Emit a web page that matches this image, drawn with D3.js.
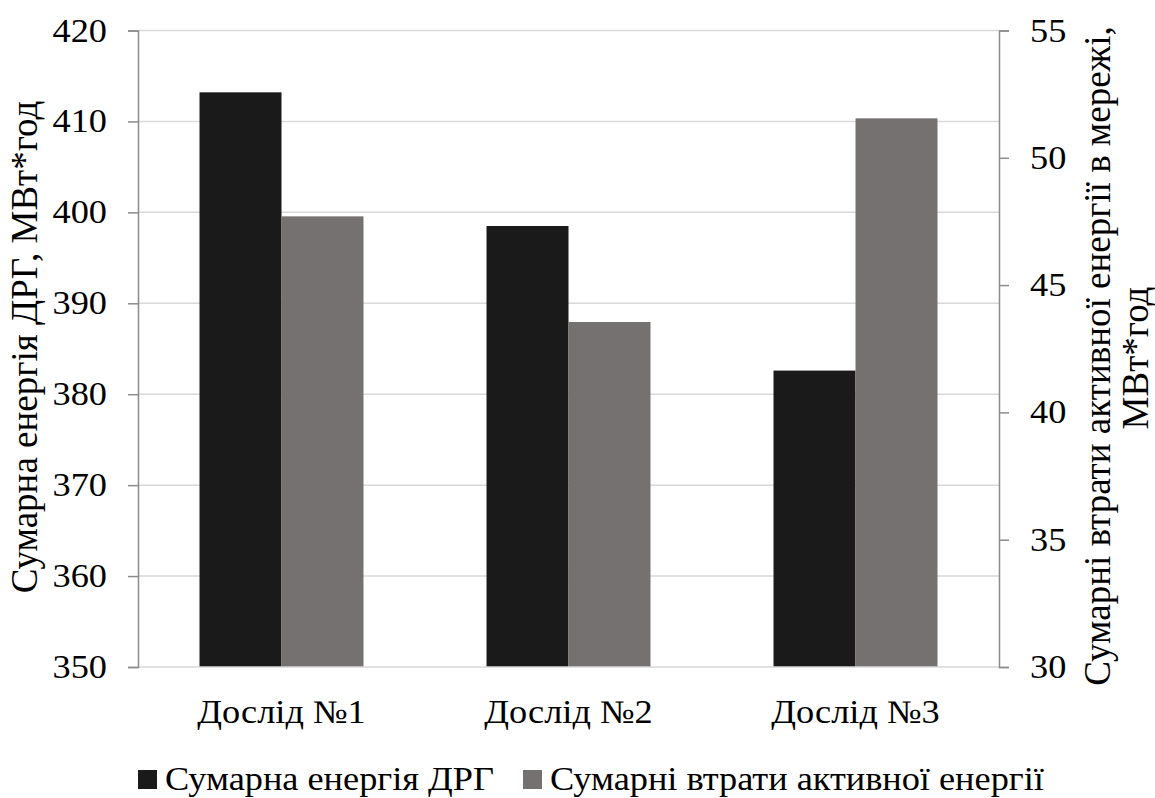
<!DOCTYPE html>
<html><head><meta charset="utf-8">
<script src="https://cdn.jsdelivr.net/npm/d3@7"></script>
<style>body{margin:0;background:#fff}svg{display:block}</style>
</head><body>
<script>
const categories = ["Дослід №1", "Дослід №2", "Дослід №3"];
const energyDRG = [413.2, 398.5, 382.6];
const lossesActive = [47.7, 43.55, 51.55];
const leftTicks = [350, 360, 370, 380, 390, 400, 410, 420];
const rightTicks = [30, 35, 40, 45, 50, 55];
const seriesNames = ["Сумарна енергія ДРГ", "Сумарні втрати активної енергії"];
const colors = ["#1a1a1a", "#767171"];

const FONT = "'Liberation Serif'";
const FS = 33, SX = 1.1, TFS = 37;
const W = 1155, H = 798;
const m = {left: 138, right: 1155 - 999, top: 30.5, bottom: 798 - 667};
const svg = d3.select("body").append("svg").attr("width", W).attr("height", H)
  .style("font-family", FONT);

const x = d3.scaleBand().domain(categories).range([m.left, W - m.right]).paddingInner(0.4286).paddingOuter(0.2143);
const yL = d3.scaleLinear().domain([350, 420]).range([H - m.bottom, m.top]);
const yR = d3.scaleLinear().domain([30, 55]).range([H - m.bottom, m.top]);

svg.append("g").selectAll("line").data(leftTicks.slice(1)).join("line")
  .attr("x1", m.left).attr("x2", W - m.right)
  .attr("y1", d => yL(d)).attr("y2", d => yL(d))
  .attr("stroke", "#d9d9d9").attr("stroke-width", 1.5);

const bw = x.bandwidth() / 2;
svg.append("g").selectAll("rect").data(categories).join("rect")
  .attr("x", d => x(d)).attr("width", bw)
  .attr("y", (d, i) => yL(energyDRG[i])).attr("height", (d, i) => yL(350) - yL(energyDRG[i]))
  .attr("fill", colors[0]);
svg.append("g").selectAll("rect").data(categories).join("rect")
  .attr("x", d => x(d) + bw).attr("width", bw)
  .attr("y", (d, i) => yR(lossesActive[i])).attr("height", (d, i) => yR(30) - yR(lossesActive[i]))
  .attr("fill", colors[1]);

svg.append("line").attr("x1", m.left).attr("x2", W - m.right).attr("y1", yL(350)).attr("y2", yL(350))
  .attr("stroke", "#d9d9d9").attr("stroke-width", 1.5);

function styleAxis(g, off) {
  g.attr("font-family", null).attr("font-size", null);
  g.select(".domain").attr("stroke", "#8c8c8c").attr("stroke-width", 1.5);
  g.selectAll(".tick line").attr("stroke", "#8c8c8c").attr("stroke-width", 1.5);
  g.selectAll(".tick text")
    .style("font-family", FONT).style("font-size", FS + "px").attr("fill", "#000")
    .attr("x", 0).attr("transform", `translate(${off},0) scale(${SX},1)`);
}
const gL = svg.append("g").attr("transform", `translate(${m.left},0)`)
  .call(d3.axisLeft(yL).tickValues(leftTicks).tickSize(10).tickPadding(21));
styleAxis(gL, -31);
const gR = svg.append("g").attr("transform", `translate(${W - m.right},0)`)
  .call(d3.axisRight(yR).tickValues(rightTicks).tickSize(10).tickPadding(21));
styleAxis(gR, 31);

function txt(tx, ty, s, anchor, fs, sx, rot) {
  return svg.append("text")
    .attr("transform", `translate(${tx},${ty}) scale(${sx},1)` + (rot ? " rotate(-90)" : ""))
    .attr("text-anchor", anchor).style("font-family", FONT).style("font-size", fs + "px")
    .attr("fill", "#000").text(s);
}

categories.forEach(c => txt(x(c) + x.bandwidth() / 2, 723, c, "middle", FS, SX, false));

txt(37, 347, "Сумарна енергія ДРГ, МВт*год", "middle", TFS, 1, true);
txt(1110, 356, "Сумарні втрати активної енергії в мережі,", "middle", TFS, 1, true);
txt(1148, 358, "МВт*год", "middle", TFS, 1, true);

const legX = [138, 523];
seriesNames.forEach((s, i) => {
  svg.append("rect").attr("x", legX[i]).attr("y", 770).attr("width", 19).attr("height", 19).attr("fill", colors[i]);
  txt(legX[i] + 27, 790, s, "start", FS, SX, false);
});
</script>
</body></html>
